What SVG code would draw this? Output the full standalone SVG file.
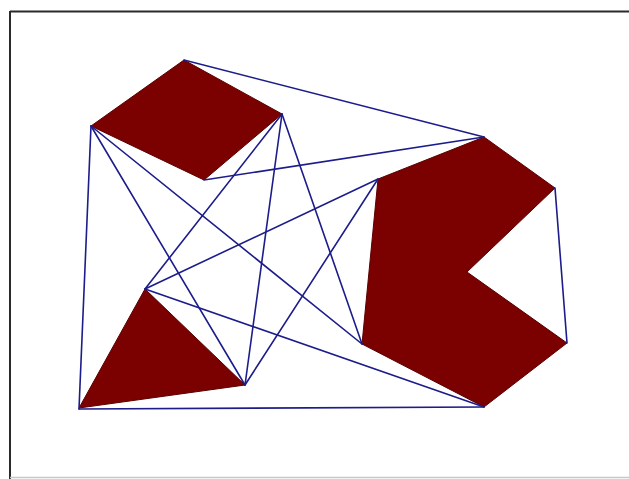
<svg xmlns="http://www.w3.org/2000/svg" width="629" height="479" viewBox="0 0 629 479">
<style>
.shape{fill:#7b0000;stroke:#5a0000;stroke-width:1}
.edge{stroke:#1c1c8a;stroke-width:1.6;fill:none;stroke-linecap:round}
</style>
<rect x="0" y="0" width="629" height="479" fill="#ffffff"/>
<g id="frame">
<line x1="10" y1="11.5" x2="629" y2="11.5" stroke="#2a2a2a" stroke-width="2"/>
<line x1="10" y1="11" x2="10" y2="479" stroke="#2a2a2a" stroke-width="2"/>
<line x1="10" y1="477.5" x2="629" y2="477.5" stroke="#c8c8c8" stroke-width="1.5"/>
</g>
<g id="square">
<polygon class="shape" points="184,60 282,114 204,180 91,126"/>
</g>
<g id="triangle">
<polygon class="shape" points="145,289 245,385 79,408"/>
</g>
<g id="notched">
<polygon class="shape" points="378,179 484,137 555,188 467,272 567,343 484,407 362,344"/>
</g>
<g id="connectors">
<line class="edge" x1="184" y1="60" x2="484" y2="137"/>
<line class="edge" x1="204" y1="180" x2="484" y2="137"/>
<line class="edge" x1="91" y1="126" x2="79" y2="409"/>
<line class="edge" x1="79" y1="409" x2="484" y2="407"/>
<line class="edge" x1="555" y1="188" x2="567" y2="343"/>
<line class="edge" x1="91" y1="126" x2="245" y2="385"/>
<line class="edge" x1="91" y1="126" x2="362" y2="344"/>
<line class="edge" x1="282" y1="114" x2="145" y2="289"/>
<line class="edge" x1="282" y1="114" x2="245" y2="385"/>
<line class="edge" x1="282" y1="114" x2="362" y2="344"/>
<line class="edge" x1="378" y1="179" x2="145" y2="289"/>
<line class="edge" x1="378" y1="179" x2="245" y2="385"/>
<line class="edge" x1="145" y1="289" x2="484" y2="407"/>
</g>
</svg>
